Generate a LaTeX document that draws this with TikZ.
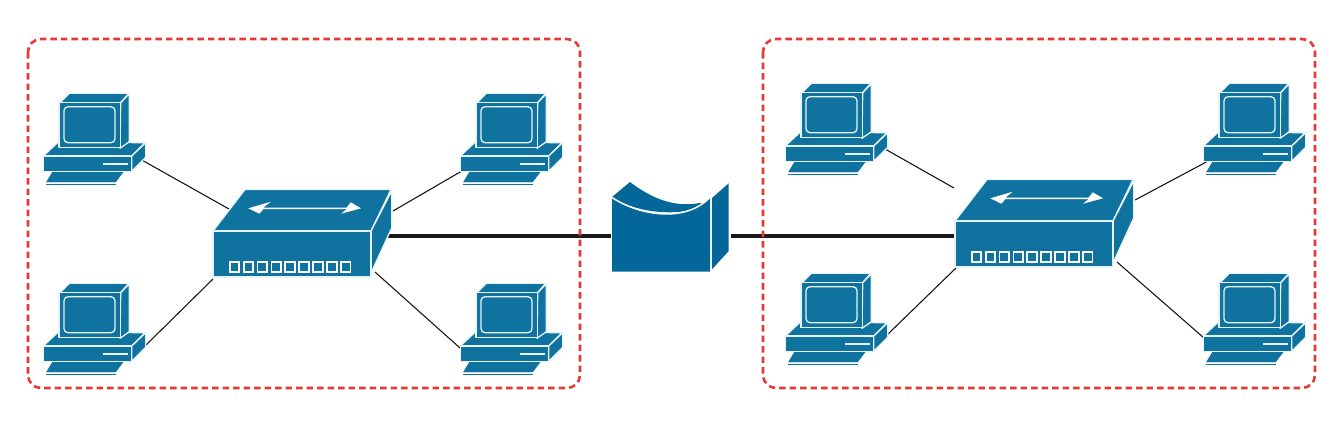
\documentclass[tikz,border=0pt]{standalone}
\definecolor{netblue}{HTML}{10729F}
\definecolor{wanblue}{HTML}{04679A}
\definecolor{edgeblue}{HTML}{E6F4F8}
\definecolor{zonered}{HTML}{E53935}
\tikzset{
  x=1pt,y=-1pt,
  blueface/.style={fill=netblue,draw=edgeblue,line width=1.3pt,line join=round},
  thinlink/.style={draw=black!90,line width=1.1pt},
  thicklink/.style={draw=black!90,line width=3.2pt},
  zone/.style={draw=zonered,line width=2.6pt,dash pattern=on 6.5pt off 4pt,rounded corners=13pt},
  pcicon/.pic={
    % keyboard, base, then monitor; coordinates relative to the icon's top-left
    \path[fill=netblue] (3,89.4)--(9.5,78.7)--(81.5,78.7)--(73,89.4)--cycle;
    \path[fill=netblue] (3,90.6) rectangle (73,92.4);
    \draw[white,line width=1pt] (3,90)--(73,90)--(81.5,78.7);
    \path[blueface] (15.3,49)--(0.3,63)--(88.7,63)--(102,49.7)--cycle;
    \path[blueface] (0.3,63) rectangle (88.7,78.3);
    \path[blueface] (88.7,63)--(102.7,49.7)--(102.7,64.3)--(88.7,78.3)--cycle;
    \path[fill=edgeblue] (60.3,70.4) rectangle (84.7,72.2);
    \path[blueface] (17,9.7)--(26.3,0.3)--(85.7,0.3)--(77.7,9.7)--cycle;
    \path[blueface] (77.7,9.7)--(86.3,0.8)--(86.3,48.7)--(77,55.3)--cycle;
    \path[blueface] (16,9.7) rectangle (77.7,54.5);
    \draw[edgeblue,line width=1.3pt,rounded corners=4pt] (21,13.7) rectangle (72,49.7);
  },
  switchicon/.pic={
    % coordinates relative to the front face's top-left
    \path[blueface] (0,0)--(32,-41.5)--(178,-41.5)--(158,0)--cycle;
    \path[blueface] (158,0)--(178.7,-40)--(178.7,-3)--(158.5,41)--(158,46)--cycle;
    \path[blueface] (0,0) rectangle (158,46);
    \path[fill=white] (35.3,-22.7)--(57.7,-29.3)--(50.5,-23.5)--(133.7,-23.5)--(137.7,-28.7)--(148,-22.7)--(128,-17.3)--(133.7,-21.9)--(50.5,-21.9)--(46.3,-17.3)--cycle;
    \foreach \i in {0,...,8}
      \draw[white,line width=1.8pt,fill=netblue] (16.7+13.9*\i,31) rectangle ++(9.6,9.6);
  },
}
\begin{document}
\begin{tikzpicture}
\useasboundingbox (0,0) rectangle (1338,424);
% connector ends
\coordinate (la) at (140,159); \coordinate (sla) at (229,209);
\coordinate (lb) at (145,346); \coordinate (slb) at (213,279);
\coordinate (lc) at (467,168); \coordinate (slc) at (393,211);
\coordinate (ld) at (460,348); \coordinate (sld) at (375,272);
\coordinate (ra) at (885,149); \coordinate (sra) at (954,188);
\coordinate (rb) at (888,334); \coordinate (srb) at (956,268);
\coordinate (rc) at (1210,160); \coordinate (src) at (1135,200);
\coordinate (rd) at (1204,338); \coordinate (srd) at (1117,262);
\coordinate (swl) at (387,236); \coordinate (wanl) at (611,236);
\coordinate (wanr) at (731,236); \coordinate (swr) at (955,236);

\draw[thinlink] (la)--(sla); \draw[thinlink] (lb)--(slb);
\draw[thinlink] (lc)--(slc); \draw[thinlink] (ld)--(sld);
\draw[thinlink] (ra)--(sra); \draw[thinlink] (rb)--(srb);
\draw[thinlink] (rc)--(src); \draw[thinlink] (rd)--(srd);
\draw[thicklink] (swl)--(wanl); \draw[thicklink] (wanr)--(swr);

\draw[zone] (28,39) rectangle (580,388);
\draw[zone] (763,39) rectangle (1315,388);

\pic at (43,93) {pcicon};
\pic at (43,283) {pcicon};
\pic at (460,93) {pcicon};
\pic at (460,283) {pcicon};
\pic at (785,83) {pcicon};
\pic at (785,273) {pcicon};
\pic at (1203,83) {pcicon};
\pic at (1203,273) {pcicon};

\pic at (213,231) {switchicon};
\pic at (955,221) {switchicon};

% WAN
\fill[wanblue] (612,197)--(630,182) .. controls (650,197) and (672,208) .. (700,203)--(706,204) .. controls (690,216) and (640,216) .. (612,197)--cycle;
\fill[wanblue] (612,198) .. controls (640,216) and (685,222) .. (710,198.7)--(710,271.7)--(612,271.7)--cycle;
\draw[white,line width=1.5pt] (612,197.5) .. controls (640,216) and (685,222) .. (708,199);
\fill[wanblue] (712,198)--(728.7,183.3)--(728.7,251)--(712,269.3)--cycle;
\end{tikzpicture}
\end{document}
